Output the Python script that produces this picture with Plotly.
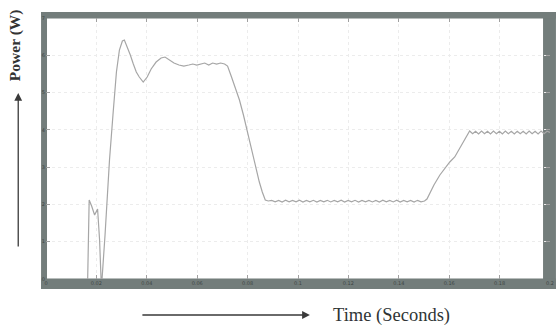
import plotly.graph_objects as go

# Simulated power response of the converter (time in s, power in scaled W units)
time_s = [
    0.01654, 0.01713, 0.01811, 0.01929, 0.02047, 0.02126, 0.02185, 0.02224,
    0.02343, 0.02441, 0.02520, 0.02657, 0.02795, 0.02913, 0.03031, 0.03110,
    0.03228, 0.03346, 0.03465, 0.03583, 0.03701, 0.03858, 0.04016, 0.04173,
    0.04370, 0.04567, 0.04724, 0.04882, 0.05079, 0.05276, 0.05472, 0.05669,
    0.05827, 0.05984, 0.06142, 0.06299, 0.06457, 0.06614, 0.06772, 0.06929,
    0.07087, 0.07205, 0.07362, 0.07520, 0.07677, 0.07835, 0.07992, 0.08150,
    0.08307, 0.08465, 0.08583, 0.08701, 0.08819,
    0.08957, 0.09094, 0.09232, 0.09370, 0.09508, 0.09646, 0.09783, 0.09921,
    0.10059, 0.10197, 0.10335, 0.10472, 0.10610, 0.10748, 0.10886, 0.11024,
    0.11161, 0.11299, 0.11437, 0.11575, 0.11713, 0.11850, 0.11988, 0.12126,
    0.12264, 0.12402, 0.12539, 0.12677, 0.12815, 0.12953, 0.13091, 0.13228,
    0.13366, 0.13504, 0.13642, 0.13780, 0.13917, 0.14055, 0.14193, 0.14331,
    0.14469, 0.14606, 0.14744, 0.14882, 0.15020,
    0.15118, 0.15236, 0.15394, 0.15630, 0.15827, 0.16024, 0.16220, 0.16378,
    0.16535, 0.16693, 0.16811,
    0.16929, 0.17047, 0.17165, 0.17283, 0.17402, 0.17520, 0.17638, 0.17756,
    0.17874, 0.17992, 0.18110, 0.18228, 0.18346, 0.18465, 0.18583, 0.18701,
    0.18819, 0.18937, 0.19055, 0.19173, 0.19291, 0.19409, 0.19528, 0.19646,
    0.19764, 0.19882, 0.20000,
]

power = [
    0.000, 2.119, 1.958, 1.716, 1.877, 1.046, 0.000, 0.000,
    1.180, 2.387, 3.191, 4.398, 5.551, 6.141, 6.382, 6.409,
    6.221, 6.007, 5.766, 5.551, 5.417, 5.283, 5.417, 5.632,
    5.819, 5.927, 5.953, 5.873, 5.792, 5.739, 5.712, 5.739,
    5.766, 5.739, 5.766, 5.792, 5.739, 5.792, 5.766, 5.792,
    5.766, 5.712, 5.417, 5.122, 4.800, 4.398, 3.942, 3.459,
    3.057, 2.601, 2.333, 2.119, 2.092,
    2.110, 2.070, 2.108, 2.066, 2.112, 2.070, 2.109, 2.068,
    2.112, 2.066, 2.107, 2.070, 2.111, 2.065, 2.108, 2.069,
    2.110, 2.067, 2.106, 2.071, 2.112, 2.066, 2.109, 2.068,
    2.111, 2.065, 2.107, 2.070, 2.110, 2.067, 2.108, 2.066,
    2.112, 2.069, 2.106, 2.067, 2.111, 2.065, 2.109, 2.070,
    2.108, 2.066, 2.110, 2.068, 2.090,
    2.145, 2.306, 2.521, 2.789, 2.977, 3.138, 3.272, 3.459,
    3.674, 3.862, 3.969,
    3.895, 3.962, 3.890, 3.966, 3.896, 3.960, 3.892, 3.965,
    3.895, 3.962, 3.889, 3.966, 3.896, 3.960, 3.891, 3.964,
    3.894, 3.963, 3.890, 3.966, 3.895, 3.961, 3.892, 3.965,
    3.894, 3.962, 3.930,
]

x_ticks = [0, 0.02, 0.04, 0.06, 0.08, 0.1, 0.12, 0.14, 0.16, 0.18, 0.2]
x_tick_text = ["0", "0.02", "0.04", "0.06", "0.08", "0.1", "0.12", "0.14", "0.16", "0.18", "0.2"]
y_ticks = [0, 1, 2, 3, 4, 5, 6, 7]
y_tick_text = ["0", "1", "2", "3", "4", "5", "6", "7"]

FRAME = "#737d7b"
TICKFONT = dict(family="DejaVu Sans", size=5, color="#3e4644")

fig = go.Figure()
fig.add_trace(go.Scatter(
    x=time_s, y=power, mode="lines",
    line=dict(color="#a6a6a6", width=1.2),
    showlegend=False, hoverinfo="skip",
))

axis_common = dict(
    showgrid=True, gridcolor="#ececec", griddash="dot", gridwidth=1,
    zeroline=False, showline=False,
    ticks="inside", ticklen=4, tickcolor="#a0a0a0", tickwidth=1,
    mirror="ticks", tickfont=TICKFONT,
)

fig.update_xaxes(range=[0, 0.2], tickvals=x_ticks, ticktext=x_tick_text, **axis_common)
fig.update_yaxes(range=[0, 7], tickvals=y_ticks, ticktext=y_tick_text, **axis_common)

# Thick grey frame around the plotting area (drawn beneath the tick labels)
frame_parts = [
    (-0.0098, 0.0020, -0.0383, 1.0230),   # left
    (0.9862, 1.0118, -0.0383, 1.0230),    # right
    (-0.0098, 1.0118, 0.9981, 1.0230),    # top
    (-0.0098, 1.0118, -0.0383, 0.0020),   # bottom
]
for x0, x1, y0, y1 in frame_parts:
    fig.add_shape(type="rect", xref="paper", yref="paper",
                  x0=x0, x1=x1, y0=y0, y1=y1,
                  fillcolor=FRAME, line=dict(width=0), layer="below")

# Axis captions with their direction arrows
fig.add_annotation(
    xref="paper", yref="paper", x=-0.0610, y=0.897,
    xanchor="center", yanchor="middle",
    text="<b>Power (W)</b>", textangle=-90, showarrow=False,
    font=dict(family="Liberation Serif", size=15.5, color="#333333"),
)
fig.add_annotation(
    xref="paper", yref="paper", x=-0.0551, y=0.7126, text="",
    showarrow=True, axref="pixel", ayref="pixel", ax=0, ay=155,
    arrowhead=2, arrowsize=1.2, arrowwidth=1.3, arrowcolor="#3a3a3a",
)
fig.add_annotation(
    xref="paper", yref="paper", x=0.686, y=-0.138,
    xanchor="center", yanchor="middle",
    text="Time (Seconds)", showarrow=False,
    font=dict(family="Liberation Serif", size=18.5, color="#2f3535"),
)
fig.add_annotation(
    xref="paper", yref="paper", x=0.5236, y=-0.1379, text="",
    showarrow=True, axref="pixel", ayref="pixel", ax=-169, ay=0,
    arrowhead=2, arrowsize=1.2, arrowwidth=1.3, arrowcolor="#3a3a3a",
)

fig.update_layout(
    width=560, height=325,
    margin=dict(l=46, r=6, t=18, b=46),
    paper_bgcolor="white", plot_bgcolor="white",
    showlegend=False,
)

fig.write_html("out.html")
